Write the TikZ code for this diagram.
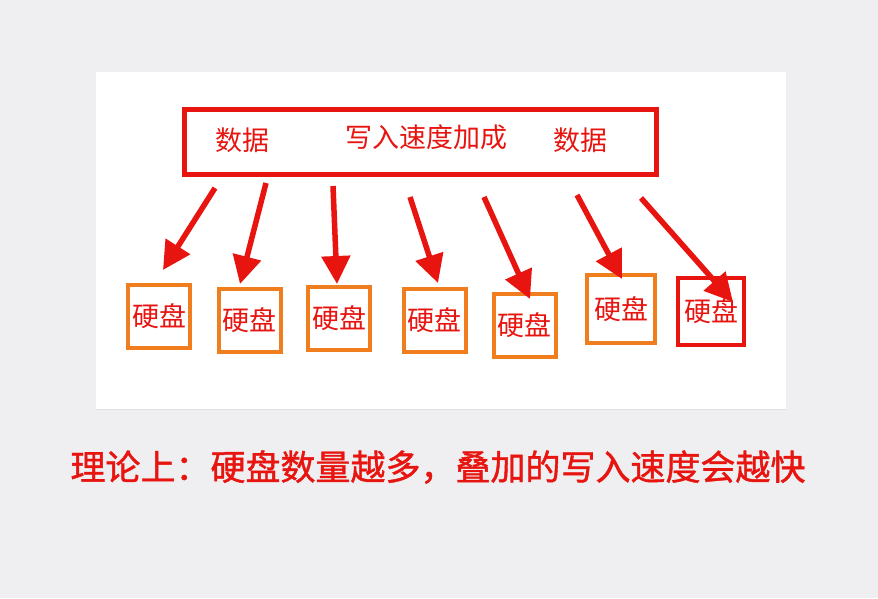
\documentclass[tikz,border=0pt]{standalone}
\usepackage{fontspec}
\newfontfamily\cjk{Noto Sans CJK SC}
\newfontfamily\cjkb[FakeBold=1.2]{Noto Sans CJK SC}
\usetikzlibrary{arrows.meta}
\definecolor{bg}{HTML}{EFEFF1}
\definecolor{rd}{HTML}{E8140F}
\definecolor{og}{HTML}{F07D1E}
\begin{document}
\begin{tikzpicture}[x=1pt,y=-1pt,
  disk/.style={draw=og, line width=4pt, minimum width=62pt, minimum height=63pt, inner sep=0pt, text=rd, font=\cjk\fontsize{27}{27}\selectfont},
  arr/.style={draw=rd, line width=5.5pt, -{Triangle[length=28pt,width=28pt]}},
  lbl/.style={text=rd, font=\cjk\fontsize{27}{27}\selectfont, inner sep=0pt}]
\fill[bg] (0,0) rectangle (878,598);
\useasboundingbox (0,0) rectangle (878,598);
\fill[white] (96,72) rectangle (786,409);
\draw[gray!25, line width=1pt] (96,409) -- (786,409);
\node[draw=rd, line width=5pt, minimum width=472pt, minimum height=65pt, inner sep=0pt] (top) at (420,141.5) {};
\node[lbl] (l1) at (242,140) {数据};
\node[lbl] (l2) at (426,137) {写入速度加成};
\node[lbl] (l3) at (580,140) {数据};
\node[disk] (d1) at (159,316.5) {硬盘};
\node[disk] (d2) at (249.5,320) {硬盘};
\node[disk] (d3) at (339,318) {硬盘};
\node[disk] (d4) at (434.5,320.5) {硬盘};
\node[disk] (d5) at (524.5,325.5) {硬盘};
\node[disk, minimum width=68pt, minimum height=68pt] (d6) at (621,309) {硬盘};
\node[disk, draw=rd, minimum width=66pt, minimum height=67pt] (d7) at (711,311.5) {硬盘};
\coordinate (s1) at (215,188); \coordinate (e1) at (163,270);
\coordinate (s2) at (266,183); \coordinate (e2) at (240,284);
\coordinate (s3) at (333,186); \coordinate (e3) at (337,284);
\coordinate (s4) at (410,197); \coordinate (e4) at (438,283);
\coordinate (s5) at (484,197); \coordinate (e5) at (530,299);
\coordinate (s6) at (577,195); \coordinate (e6) at (622,279);
\coordinate (s7) at (641,198); \coordinate (e7) at (733,302);
\foreach \i in {1,...,7} {\draw[arr] (s\i) -- (e\i);}
\node[text=rd, font=\cjkb\fontsize{35}{35}\selectfont, inner sep=0pt] (cap) at (438,467) {理论上：硬盘数量越多，叠加的写入速度会越快};
\end{tikzpicture}
\end{document}
